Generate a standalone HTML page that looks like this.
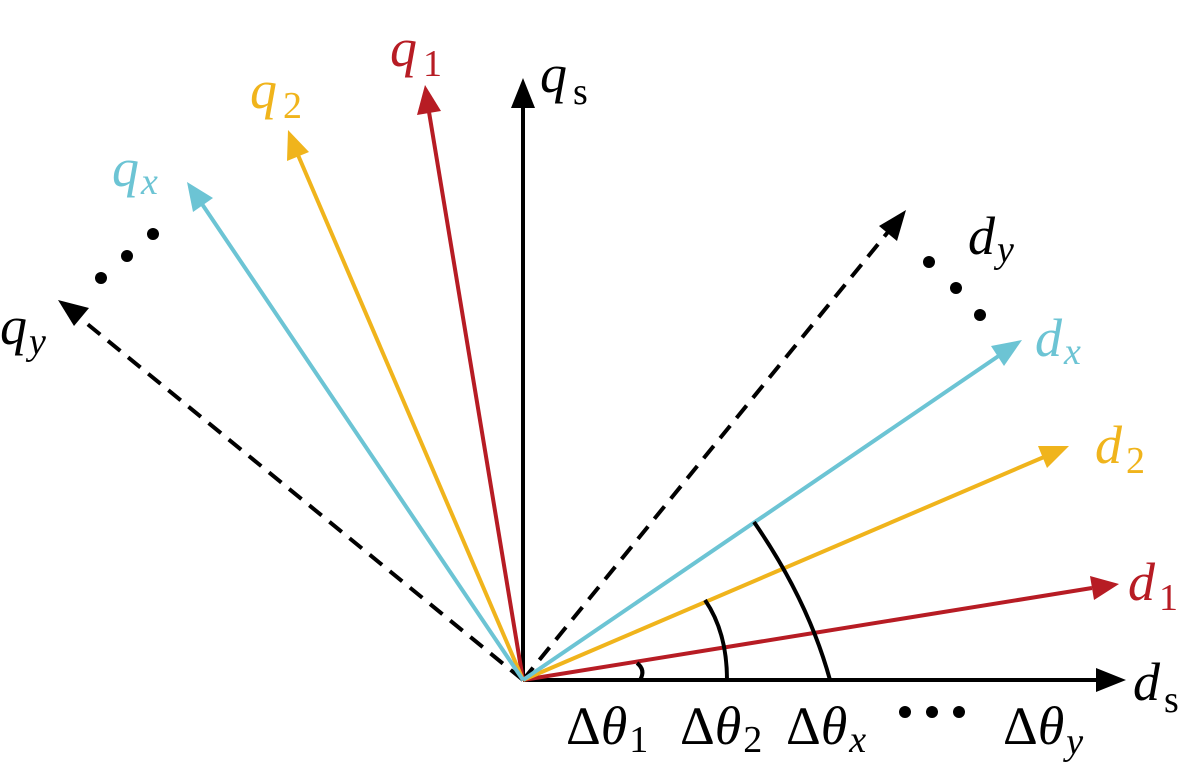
<!DOCTYPE html>
<html><head><meta charset="utf-8"><style>
html,body{margin:0;padding:0;background:#fff;}
svg{display:block}
svg text{font-family:"Liberation Serif","Times New Roman","DejaVu Serif",serif;font-style:italic;font-size:54px}
svg tspan.s{font-style:normal;font-size:38px}
svg tspan.i{font-style:italic;font-size:38px}
svg tspan.n{font-style:normal;font-size:54px}
</style></head><body>
<svg width="1189" height="771" viewBox="0 0 1189 771">
<g stroke-width="4" fill="none">
<line x1="523" y1="680" x2="523" y2="105" stroke="#000"/>
<polygon points="523,78 511,108 535,108" fill="#000" stroke="none"/>
<line x1="523" y1="680" x2="1098" y2="680" stroke="#000"/>
<polygon points="1126,680 1096,668 1096,692" fill="#000" stroke="none"/>
<line x1="523" y1="680" x2="80" y2="318" stroke="#000" stroke-dasharray="16,10"/>
<polygon points="58,300 89,308 74,326" fill="#000" stroke="none"/>
<line x1="523" y1="680" x2="888" y2="232" stroke="#000" stroke-dasharray="16,10"/>
<polygon points="906,210 897,241 879,226" fill="#000" stroke="none"/>
<line x1="523" y1="680" x2="429" y2="112" stroke="#b71c24"/>
<polygon points="425,85 417,115 441,111" fill="#b71c24" stroke="none"/>
<line x1="523" y1="680" x2="1092" y2="588" stroke="#b71c24"/>
<polygon points="1119,584 1090,576 1094,600" fill="#b71c24" stroke="none"/>
<line x1="523" y1="680" x2="298" y2="155" stroke="#f0b41c"/>
<polygon points="288,130 287,161 309,152" fill="#f0b41c" stroke="none"/>
<line x1="523" y1="680" x2="1044" y2="457" stroke="#f0b41c"/>
<polygon points="1069,446 1038,446 1047,468" fill="#f0b41c" stroke="none"/>
<line x1="523" y1="680" x2="202" y2="204" stroke="#6cc4d4"/>
<polygon points="187,182 193,212 213,198" fill="#6cc4d4" stroke="none"/>
<line x1="523" y1="680" x2="1000" y2="355" stroke="#6cc4d4"/>
<polygon points="1022,340 991,346 1004,366" fill="#6cc4d4" stroke="none"/>
<path d="M637,663 Q646,670 640,680" stroke="#000"/>
<path d="M705,600 Q727,632 727,680" stroke="#000"/>
<path d="M754,522 Q808,600 830,680" stroke="#000"/>
</g>
<g fill="#000">
<circle cx="153" cy="234" r="6"/><circle cx="127" cy="256" r="6"/><circle cx="101" cy="278" r="6"/>
<circle cx="929" cy="262" r="6"/><circle cx="956" cy="288" r="6"/><circle cx="980" cy="315" r="6"/>
<circle cx="905" cy="712" r="6"/><circle cx="932" cy="712" r="6"/><circle cx="959" cy="712" r="6"/>
</g>
<text x="390" y="66" fill="#b71c24">q<tspan class="s" dx="6" dy="10">1</tspan></text>
<text x="250" y="108" fill="#f0b41c">q<tspan class="s" dx="6" dy="10">2</tspan></text>
<text x="112" y="186" fill="#6cc4d4">q<tspan class="i" dx="2" dy="8">x</tspan></text>
<text x="0" y="344" fill="#000">q<tspan class="i" dx="2" dy="10">y</tspan></text>
<text x="540" y="92" fill="#000">q<tspan class="s" dx="6" dy="12">s</tspan></text>
<text x="968" y="254" fill="#000">d<tspan class="i" dx="2" dy="8">y</tspan></text>
<text x="1035" y="356" fill="#6cc4d4">d<tspan class="i" dx="2" dy="8">x</tspan></text>
<text x="1095" y="463" fill="#f0b41c">d<tspan class="s" dx="4" dy="10">2</tspan></text>
<text x="1128" y="600" fill="#b71c24">d<tspan class="s" dx="4" dy="10">1</tspan></text>
<text x="1133" y="700" fill="#000">d<tspan class="s" dx="4" dy="12">s</tspan></text>
<text x="566" y="744"><tspan class="n">Δ</tspan>θ<tspan class="s" dx="2" dy="8">1</tspan></text>
<text x="680" y="744"><tspan class="n">Δ</tspan>θ<tspan class="s" dx="2" dy="8">2</tspan></text>
<text x="786" y="744"><tspan class="n">Δ</tspan>θ<tspan class="i" dx="2" dy="8">x</tspan></text>
<text x="1003" y="744"><tspan class="n">Δ</tspan>θ<tspan class="i" dx="2" dy="10">y</tspan></text>
</svg>
</body></html>
